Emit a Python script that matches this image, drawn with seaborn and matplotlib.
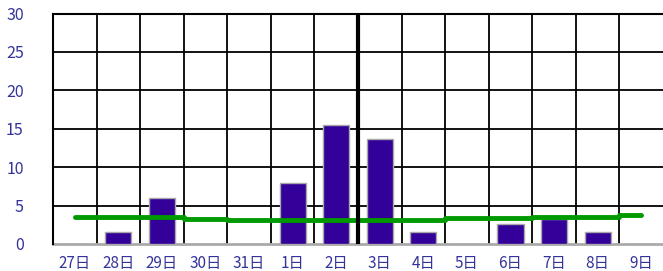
import numpy as np
import matplotlib
matplotlib.use("Agg")
import matplotlib.pyplot as plt
import seaborn as sns

# ── data ─────────────────────────────────────────────────────────────
days = ["27日", "28日", "29日", "30日", "31日", "1日", "2日",
        "3日", "4日", "5日", "6日", "7日", "8日", "9日"]
rain = [0, 1.5, 6.0, 0, 0, 8.0, 15.5, 13.7, 1.5, 0, 2.6, 3.25, 1.5, 0]
normal = [3.5, 3.5, 3.5, 3.3, 3.15, 3.15, 3.15, 3.15, 3.15, 3.35, 3.35, 3.5, 3.5, 3.75]
y_ticks = [0, 5, 10, 15, 20, 25, 30]

LBL = "#333399"
sns.set_style("white")
plt.rcParams["font.family"] = ["Noto Sans CJK JP", "DejaVu Sans"]

fig = plt.figure(figsize=(6.63, 2.71), dpi=100)
ax = fig.add_axes([53 / 663, 1 - 244 / 271, 1 - 53 / 663, (244 - 13.5) / 271])

x = np.arange(len(days))
sns.barplot(x=x, y=rain, ax=ax, color="#330099", saturation=1, width=0.6,
            edgecolor="#a8a8a8", linewidth=1, zorder=3, native_scale=True)
sns.lineplot(x=x, y=normal, ax=ax, color="#009900", lw=3.5,
             drawstyle="steps-mid", zorder=4)

ax.set_xlim(-0.5, len(days) - 0.5)
ax.set_ylim(0, 30)

# grid: horizontal every 5, vertical between days
for v in y_ticks[1:-1]:
    ax.axhline(v, color="black", lw=1.3, zorder=1)
for k in range(1, len(days)):
    ax.axvline(k - 0.5, color="black", lw=3 if k == 7 else 1.3, zorder=5 if k == 7 else 1)

ax.set_xticks(x)
ax.set_xticklabels(days)
ax.set_yticks(y_ticks)
ax.tick_params(axis="both", length=0, colors=LBL, labelsize=11)
ax.tick_params(axis="y", pad=21)
ax.tick_params(axis="x", pad=8)
for t in ax.get_yticklabels():
    t.set_family(["Liberation Sans Narrow", "Noto Sans CJK JP", "DejaVu Sans"])
    t.set_fontsize(11.5)

for s in ["left", "top"]:
    ax.spines[s].set_color("black")
    ax.spines[s].set_linewidth(1.5)
ax.spines["right"].set_visible(False)
ax.spines["bottom"].set_color("#aaaaaa")
ax.spines["bottom"].set_linewidth(2)
ax.spines["bottom"].set_zorder(2)
ax.set_xlabel("")
ax.set_ylabel("")

fig.savefig("out.png", dpi=100)
